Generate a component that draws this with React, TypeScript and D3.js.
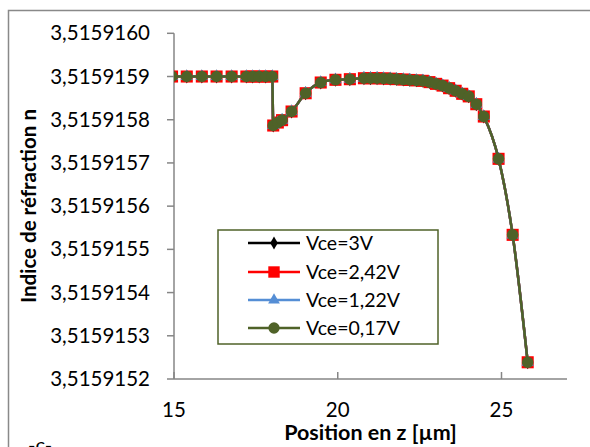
import * as d3 from 'd3';

// Position en z (µm) et indice de réfraction
const zPositions = [
  14.94, 15.39, 15.85, 16.3, 16.76, 17.21, 17.4, 17.6, 17.8, 18.0,
  18.03, 18.17, 18.3, 18.59, 19.02, 19.48, 19.93, 20.37,
  20.8, 21.0, 21.2, 21.4, 21.6, 21.8, 22.0, 22.2, 22.4, 22.6, 22.8, 23.0, 23.2, 23.4, 23.6, 23.8, 24.0,
  24.23, 24.46, 24.91, 25.34, 25.8,
];
const nValues = [
  3.5159159, 3.5159159, 3.5159159, 3.5159159, 3.5159159, 3.5159159, 3.5159159, 3.5159159, 3.5159159, 3.5159159,
  3.5159157866, 3.5159157935, 3.515915799, 3.515915819, 3.5159158613, 3.5159158861, 3.5159158924, 3.5159158938,
  3.515915896, 3.515915896, 3.515915896, 3.5159158955, 3.515915895, 3.515915894, 3.515915893, 3.515915892,
  3.515915891, 3.51591589, 3.515915887, 3.515915883, 3.515915879, 3.515915873, 3.515915867, 3.51591586, 3.515915854,
  3.5159158359, 3.5159158074, 3.5159157095, 3.5159155336, 3.5159152387,
];

const seriesNames = ['Vce=3V', 'Vce=2,42V', 'Vce=1,22V', 'Vce=0,17V'];
const seriesColors = ['#000000', '#FF0000', '#558ED5', '#4F6228'];
const seriesMarkers = ['diamond', 'square', 'triangle', 'circle'];
// les quatre courbes se superposent sur la figure
const seriesValues = [nValues, nValues, nValues, nValues];

const xTicks = [15, 20, 25];
const yTicks = [3.5159152, 3.5159153, 3.5159154, 3.5159155, 3.5159156, 3.5159157, 3.5159158, 3.5159159, 3.515916];

const FONT = 'Lato, "Open Sans", sans-serif';

function symbolPath(kind: string, big: boolean) {
  const sizes: Record<string, number> = big
    ? { diamond: 56, square: 146, triangle: 66, circle: 106 }
    : { diamond: 50, square: 130, triangle: 60, circle: 100 };
  const type =
    kind === 'diamond' ? d3.symbolDiamond
      : kind === 'square' ? d3.symbolSquare
        : kind === 'triangle' ? d3.symbolTriangle
          : d3.symbolCircle;
  return d3.symbol().type(type).size(sizes[kind])() || '';
}

export default function App() {
  const plot = { left: 174, right: 567, top: 33.3, bottom: 379 };
  const x = d3.scaleLinear().domain([15, 27]).range([plot.left, plot.right]);
  const y = d3.scaleLinear().domain([3.5159152, 3.515916]).range([plot.bottom, plot.top]);

  const line = d3.line<number>()
    .x((_, i) => x(zPositions[i]))
    .y(d => y(d))
    .curve(d3.curveMonotoneX);

  const legend = { x: 218, y: 230, w: 220, h: 114 };
  const legendRows = [243, 272, 300, 328];

  return (
    <svg width={590} height={447} style={{ position: 'absolute', left: 0, top: 0, background: '#fff' }}>
      <defs>
        <clipPath id="plotClip">
          <rect x={plot.left} y={0} width={590 - plot.left} height={447} />
        </clipPath>
      </defs>
      <rect x={8.5} y={10.5} width={600} height={460} fill="#fff" stroke="#898989" strokeWidth={1.5} />

      {/* axes */}
      <line x1={plot.left} x2={plot.left} y1={plot.top} y2={plot.bottom} stroke="#868686" strokeWidth={1.5} />
      <line x1={plot.left} x2={plot.right} y1={plot.bottom} y2={plot.bottom} stroke="#868686" strokeWidth={1.5} />
      {yTicks.map(t => (
        <g key={t}>
          <line x1={plot.left - 7} x2={plot.left} y1={y(t)} y2={y(t)} stroke="#868686" strokeWidth={1.5} />
          <text x={150} y={y(t) + 7} textAnchor="end" fontFamily={FONT} fontSize={20.5} fill="#000">
            {t.toFixed(7).replace('.', ',')}
          </text>
        </g>
      ))}
      {xTicks.map(t => (
        <g key={t}>
          <line x1={x(t)} x2={x(t)} y1={plot.bottom - 7} y2={plot.bottom} stroke="#868686" strokeWidth={1.5} />
          <text x={x(t)} y={417} textAnchor="middle" fontFamily={FONT} fontSize={20.5} fill="#000">{t}</text>
        </g>
      ))}

      <text x={(plot.left + plot.right) / 2} y={440} textAnchor="middle" fontFamily={FONT} fontSize={21.5} fontWeight="bold">
        Position en z [µm]
      </text>
      <text transform={`translate(36,206) rotate(-90)`} textAnchor="middle" fontFamily={FONT} fontSize={20.5} fontWeight="bold">
        Indice de réfraction n
      </text>

      {/* séries */}
      <g clipPath="url(#plotClip)">
        {seriesValues.map((vals, s) => (
          <g key={seriesNames[s]}>
            <path d={line(vals) || ''} fill="none" stroke={seriesColors[s]} strokeWidth={2.5} />
            {vals.map((v, i) => (
              <path
                key={i}
                d={symbolPath(seriesMarkers[s], true)}
                transform={`translate(${x(zPositions[i])},${y(v)})`}
                fill={seriesColors[s]}
              />
            ))}
          </g>
        ))}
      </g>

      {/* légende */}
      <rect x={legend.x} y={legend.y} width={legend.w} height={legend.h} fill="#fff" stroke="#4F6228" strokeWidth={1.5} />
      {seriesNames.map((name, s) => (
        <g key={name}>
          <line x1={248} x2={300} y1={legendRows[s]} y2={legendRows[s]} stroke={seriesColors[s]} strokeWidth={2.5} />
          <path d={symbolPath(seriesMarkers[s], false)} transform={`translate(274,${legendRows[s]})`} fill={seriesColors[s]} />
          <text x={306} y={legendRows[s] + 7} fontFamily={FONT} fontSize={19.5} fill="#000">{name}</text>
        </g>
      ))}

      <text x={28} y={452} fontFamily={FONT} fontSize={20} fill="#000">-c-</text>
    </svg>
  );
}
